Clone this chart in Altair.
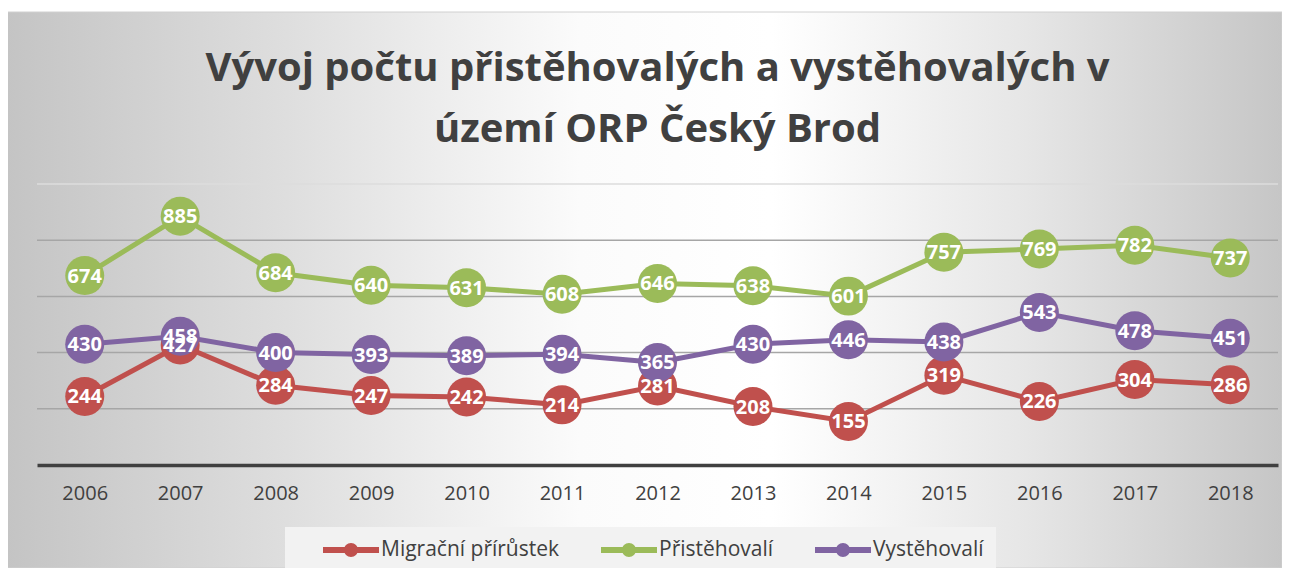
import altair as alt
import pandas as pd

years = [str(y) for y in range(2006, 2019)]
migrace = [244, 427, 284, 247, 242, 214, 281, 208, 155, 319, 226, 304, 286]
pristehovali = [674, 885, 684, 640, 631, 608, 646, 638, 601, 757, 769, 782, 737]
vystehovali = [430, 458, 400, 393, 389, 394, 365, 430, 446, 438, 543, 478, 451]
series = ["Migrační přírůstek", "Přistěhovalí", "Vystěhovalí"]
colors = ["#C0504D", "#9BBB59", "#8064A2"]
grid_values = [200, 400, 600, 800, 1000]
title_lines = ["Vývoj počtu přistěhovalých a vystěhovalých v", "území ORP Český Brod"]

rows = []
for s_i, (name, vals) in enumerate(zip(series, [migrace, pristehovali, vystehovali])):
    for y, v in zip(years, vals):
        rows.append({"year": y, "value": v, "series": name, "ord": s_i})
df = pd.DataFrame(rows)
grid_df = pd.DataFrame({"value": grid_values})

W, H = 1241, 281
PAD = {"left": 29, "top": 176, "right": 4, "bottom": 103}

# legend symbol: 56px-wide line with a dot, in a 22px slot (scale = 11 px / unit)
LEGEND_PATH = ("M-2.545,-0.27H2.545V0.27H-2.545Z "
               "M0.636,0A0.636,0.636,0,1,1,-0.636,0A0.636,0.636,0,1,1,0.636,0Z")

color_scale = alt.Scale(domain=series, range=colors)
y_scale = alt.Scale(domain=[0, 1000], nice=False, zero=True)

legend = alt.Legend(
    orient="none", legendX=248, legendY=343, direction="horizontal",
    title=None, symbolType=LEGEND_PATH, symbolSize=484, symbolStrokeWidth=0,
    symbolOpacity=1, symbolOffset=43,
    labelFont="Open Sans", labelFontSize=21, labelColor="#404040",
    labelOffset=19, labelLimit=400, columnPadding=15, padding=12,
    fillColor="#f2f2f2", zindex=1,
    labelExpr="datum.label == 'Vystěhovalí' ? datum.label + '\u2003\u2003' : datum.label",
)

bg = alt.Chart(pd.DataFrame({"a": [0]})).mark_rect(
    color={
        "gradient": "linear",
        "x1": 0, "y1": 0, "x2": 1, "y2": 0,
        "stops": [
            {"offset": 0, "color": "#c4c4c4"},
            {"offset": 0.22, "color": "#dedede"},
            {"offset": 0.45, "color": "#fbfbfb"},
            {"offset": 0.6, "color": "#ffffff"},
            {"offset": 0.8, "color": "#e6e6e6"},
            {"offset": 1, "color": "#c6c6c6"},
        ],
    },
    stroke="#d0d0d0",
    strokeWidth=1,
).encode(
    x=alt.value(-31), x2=alt.value(W + 4),
    y=alt.value(-172), y2=alt.value(H + 103),
)

grid = alt.Chart(grid_df).mark_rule(strokeWidth=1.5).encode(
    y=alt.Y("value:Q", scale=y_scale, axis=None),
    color=alt.condition("datum.value >= 1000", alt.value("#dcdcdc"), alt.value("#a6a6a6")),
)

base = alt.Chart(df).encode(
    x=alt.X("year:N", sort=years, axis=alt.Axis(
        title=None, labelAngle=0, ticks=False, grid=False,
        domainColor="#404040", domainWidth=3.5,
        labelFont="Open Sans", labelFontSize=20, labelColor="#404040",
        labelPadding=18, zindex=1,
    )),
    y=alt.Y("value:Q", scale=y_scale, axis=None),
)

lines = base.mark_line(strokeWidth=5).encode(
    color=alt.Color("series:N", scale=color_scale, legend=legend),
    detail="series:N",
    order="ord:Q",
)

points = base.mark_circle(size=1520, opacity=1).encode(
    color=alt.Color("series:N", scale=color_scale, legend=legend),
)

labels = base.mark_text(
    color="white", font="Open Sans", fontWeight="bold", fontSize=20,
    align="center", baseline="middle", dy=1,
).encode(text="value:Q")

chart = alt.layer(bg, grid, lines, points, labels).properties(
    width=W, height=H,
    padding=PAD,
    autosize="none",
    title=alt.TitleParams(
        text=title_lines, font="Open Sans", fontSize=40, fontWeight="bold",
        color="#404040", anchor="middle", offset=34, dy=172,
        lineHeight=61, frame="group", zindex=1,
    ),
).configure_view(stroke=None)

chart.save("out.html", embed_options={"renderer": "svg", "actions": False})
